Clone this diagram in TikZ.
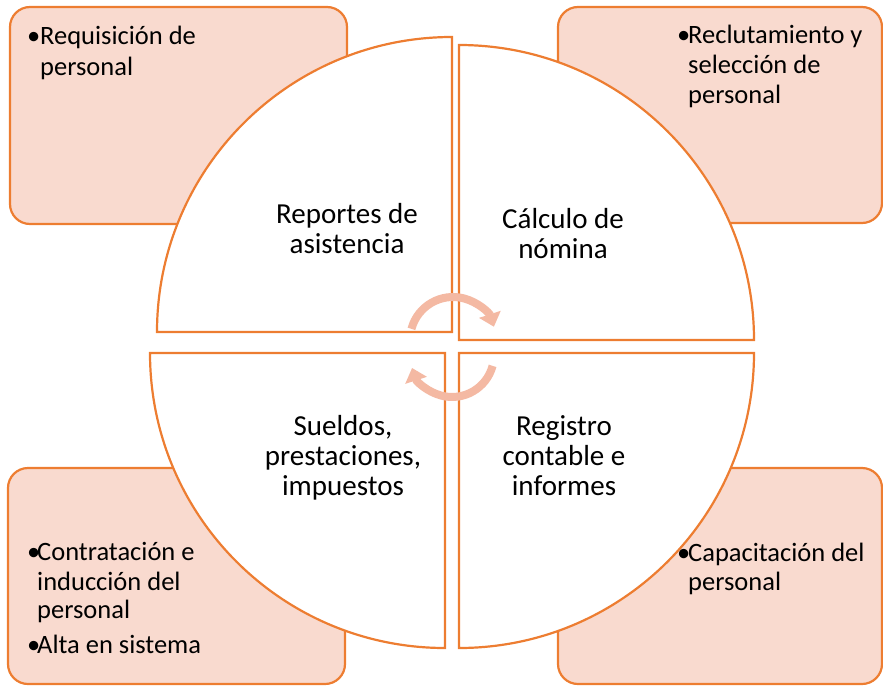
\documentclass[tikz,border=0pt]{standalone}
\usepackage{fontspec}
\setmainfont{Carlito}
\usetikzlibrary{arrows.meta}
\definecolor{orng}{HTML}{ED7D31}
\definecolor{boxfill}{HTML}{F9DACF}
\definecolor{arrowc}{HTML}{F4B9A3}
\begin{document}
\begin{tikzpicture}[x=1pt,y=-1pt,
  outerbox/.style={draw=orng, line width=2.2pt, fill=boxfill, rounded corners=20pt},
  sector/.style={draw=orng, line width=2.2pt, fill=white, line join=miter},
  cyc/.style={draw=arrowc, line width=8pt, -{Triangle[width=22pt,length=13pt]}},
  bt/.style={anchor=base west, inner sep=0pt, font=\fontsize{26.5}{30}\selectfont},
  ct/.style={anchor=base, inner sep=0pt, font=\fontsize{29}{30}\selectfont}]
\useasboundingbox (0,0) rectangle (883,685);

% outer boxes
\draw[outerbox] (10,7) rectangle (347,224);
\draw[outerbox] (558,7) rectangle (882,223);
\draw[outerbox] (8,468) rectangle (345,684);
\draw[outerbox] (558,468) rectangle (882,684);

% sectors
\draw[sector] (452,332) -- (157,332) arc[start angle=180, end angle=270, radius=295] -- cycle;
\draw[sector] (459,340) -- (459,45) arc[start angle=270, end angle=360, radius=295] -- cycle;
\draw[sector] (445,353) -- (445,648) arc[start angle=90, end angle=180, radius=295] -- cycle;
\draw[sector] (459,353) -- (754,353) arc[start angle=0, end angle=90, radius=295] -- cycle;

% cycle arrows
\draw[cyc] (453,340) ++(195:43) arc[start angle=195, end angle=342, radius=43];
\draw[cyc] (452,355) ++(15:42) arc[start angle=15, end angle=162, radius=42];

% bullet texts
\node[bt] (b1) at (27,45) {•};
\node[bt] (t1a) at (40,45) {Requisición de};
\node[bt] (t1b) at (40,75) {personal};

\node[bt] (b2) at (677,44) {•};
\node[bt] (t2a) at (688,44) {Reclutamiento y};
\node[bt] (t2b) at (688,74) {selección de};
\node[bt] (t2c) at (688,103) {personal};

\node[bt] (b3) at (27,560) {•};
\node[bt] (t3a) at (37,560) {Contratación e};
\node[bt] (t3b) at (37,590) {inducción del};
\node[bt] (t3c) at (37,618) {personal};
\node[bt] (b4) at (27,653) {•};
\node[bt] (t4a) at (37,653) {Alta en sistema};

\node[bt] (b5) at (677,561) {•};
\node[bt] (t5a) at (688,561) {Capacitación del};
\node[bt] (t5b) at (688,590) {personal};

% center texts
\node[ct] (c1a) at (347,223) {Reportes de};
\node[ct] (c1b) at (347,253) {asistencia};
\node[ct] (c2a) at (563,228) {Cálculo de};
\node[ct] (c2b) at (563,258) {nómina};
\node[ct] (c3a) at (343,435) {Sueldos,};
\node[ct] (c3b) at (343,465) {prestaciones,};
\node[ct] (c3c) at (343,495) {impuestos};
\node[ct] (c4a) at (564,435) {Registro};
\node[ct] (c4b) at (564,465) {contable e};
\node[ct] (c4c) at (564,495) {informes};
\end{tikzpicture}
\end{document}
